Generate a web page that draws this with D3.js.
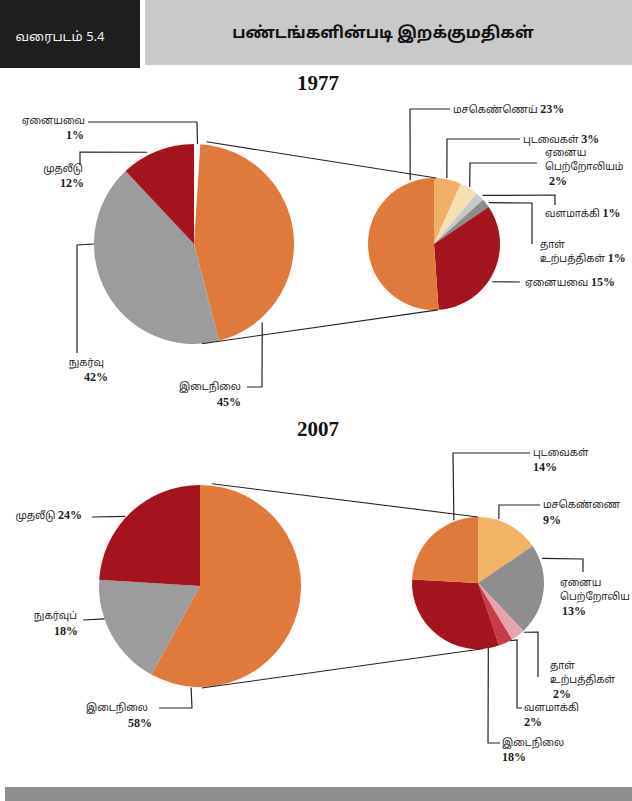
<!DOCTYPE html>
<html>
<head>
<meta charset="utf-8">
<script src="https://cdn.jsdelivr.net/npm/d3@7"></script>
<style>
  html, body { margin: 0; padding: 0; background: #ffffff; }
  svg { display: block; }
  .ta { font-family: "Noto Sans Tamil", "Lohit Tamil", "Noto Sans", sans-serif; font-size: 10px; fill: #1a1a1a; }
  .num { font-family: "Liberation Serif", "Times New Roman", serif; font-weight: bold; font-size: 12px; fill: #1a1a1a; }
  .yr { font-family: "Liberation Serif", "Times New Roman", serif; font-weight: bold; font-size: 21px; fill: #111; }
</style>
</head>
<body>
<svg id="chart" width="632" height="801"></svg>
<script>
// ---------------- data ----------------
const figureLabel = "வரைபடம் 5.4";
const figureTitle = "பண்டங்களின்படி  இறக்குமதிகள்";
const years = ["1977", "2007"];

const main1977Names  = ["ஏனையவை", "இடைநிலை", "நுகர்வு", "முதலீடு"];
const main1977Values = [1, 45, 42, 12];

const detail1977Names  = ["புடவைகள்", "ஏனைய பெற்றோலியம்", "வளமாக்கி", "தாள் உற்பத்திகள்", "ஏனையவை", "மசகெண்ணெய்"];
const detail1977Values = [3, 2, 1, 1, 15, 23];

const main2007Names  = ["இடைநிலை", "நுகர்வுப்", "முதலீடு"];
const main2007Values = [58, 18, 24];

const detail2007Names  = ["மசகெண்ணை", "ஏனைய பெற்றோலிய", "தாள் உற்பத்திகள்", "வளமாக்கி", "இடைநிலை", "புடவைகள்"];
const detail2007Values = [9, 13, 2, 2, 18, 14];

// ---------------- styles ----------------
const colMain1977   = ["#ffffff", "#e07a3c", "#9c9c9c", "#a3141f"];
const colDetail1977 = ["#f1b06a", "#f6e0b2", "#c9c9c9", "#8c8c8c", "#a3141f", "#e07a3c"];
const colMain2007   = ["#e07a3c", "#9c9c9c", "#a3141f"];
const colDetail2007 = ["#f1b465", "#8e8e8e", "#e9a3ab", "#c83c4a", "#a3141f", "#e07a3c"];

// ---------------- layout ----------------
const svg = d3.select("#chart");

// header
svg.append("rect").attr("x", 0).attr("y", 0).attr("width", 140).attr("height", 68).attr("fill", "#1e1e1e");
svg.append("rect").attr("x", 145).attr("y", 0).attr("width", 487).attr("height", 65).attr("fill", "#c9c9c9");
svg.append("text").attr("x", 60).attr("y", 41).attr("text-anchor", "middle")
  .attr("class", "ta").style("fill", "#f2f2f2").style("font-size", "13px").text(figureLabel);
svg.append("text").attr("x", 383).attr("y", 38).attr("text-anchor", "middle")
  .attr("class", "ta").style("fill", "#111").style("font-size", "16px").style("font-weight", "bold").text(figureTitle);

// bottom band
svg.append("rect").attr("x", 5).attr("y", 787).attr("width", 627).attr("height", 14).attr("fill", "#8e8e8e");

// year titles
svg.append("text").attr("class", "yr").attr("x", 318).attr("y", 90).attr("text-anchor", "middle").text(years[0]);
svg.append("text").attr("class", "yr").attr("x", 318).attr("y", 436).attr("text-anchor", "middle").text(years[1]);

const pie = d3.pie().sort(null).value(d => d.v);

function rimPoint(c, deg, k) {
  const a = deg * Math.PI / 180;
  return [c.cx + c.r * k * Math.sin(a), c.cy - c.r * k * Math.cos(a)];
}

function drawPie(names, values, colors, c) {
  const data = names.map((n, i) => ({ n, v: values[i] }));
  const arc = d3.arc().innerRadius(0).outerRadius(c.r);
  const g = svg.append("g").attr("transform", `translate(${c.cx},${c.cy})`);
  g.selectAll("path").data(pie(data)).join("path")
    .attr("d", arc)
    .attr("fill", (d, i) => colors[i])
    .attr("stroke", (d, i) => colors[i] === "#ffffff" ? "#ffffff" : "none")
    .attr("stroke-width", 0.5);
}

function leader(c, ann) {
  const p0 = rimPoint(c, ann.angle, ann.k || 1);
  const pts = [p0].concat(ann.pts);
  svg.append("path").attr("d", d3.line()(pts))
    .attr("fill", "none").attr("stroke", "#222").attr("stroke-width", 1.2);
  ann.lines.forEach(l => {
    const t = svg.append("text").attr("x", l[0]).attr("y", l[1] + 4)
      .attr("text-anchor", ann.anchor || "start");
    l[2].forEach(seg => {
      t.append("tspan").attr("class", seg.num ? "num" : "ta").text(seg.t);
    });
  });
}

function connector(c1, a1, k1, c2, a2, k2) {
  svg.append("path").attr("d", d3.line()([rimPoint(c1, a1, k1), rimPoint(c2, a2, k2)]))
    .attr("fill", "none").attr("stroke", "#222").attr("stroke-width", 1.1);
}

const T = t => ({ t });
const N = t => ({ t, num: true });
const pct = v => v + "%";

// ---- 1977 ----
const cL77 = { cx: 194, cy: 244, r: 100 };
const cR77 = { cx: 434, cy: 244, r: 66 };
drawPie(main1977Names, main1977Values, colMain1977, cL77);
drawPie(detail1977Names, detail1977Values, colDetail1977, cR77);
connector(cL77, 7, 1.03, cR77, 2, 1.0);
connector(cL77, 175.5, 1.0, cR77, 176.5, 1.0);

leader(cL77, { angle: 2, k: 1.0, pts: [[197, 122], [88, 122]], anchor: "end",
  lines: [[85, 120, [T(main1977Names[0])]], [84, 135, [N(pct(main1977Values[0]))]]] });
leader(cL77, { angle: 333, k: 1.03, pts: [[80, 152], [80, 165]], anchor: "end",
  lines: [[83, 168, [T(main1977Names[3])]], [84, 183, [N(pct(main1977Values[3]))]]] });
leader(cL77, { angle: 270, k: 1.0, pts: [[77, 245], [77, 353]], anchor: "end",
  lines: [[104, 362, [T(main1977Names[2])]], [108, 377, [N(pct(main1977Values[2]))]]] });
leader(cL77, { angle: 139, k: 1.04, pts: [[262, 387], [247, 387]], anchor: "end",
  lines: [[241, 386, [T(main1977Names[1])]], [241, 402, [N(pct(main1977Values[1]))]]] });

leader(cR77, { angle: 339.5, k: 1.03, pts: [[410, 109], [450, 109]],
  lines: [[453, 109, [T(detail1977Names[5] + "  "), N(pct(detail1977Values[5]))]]] });
leader(cR77, { angle: 11, k: 1.02, pts: [[447, 139], [520, 139]],
  lines: [[523, 139, [T(detail1977Names[0] + "  "), N(pct(detail1977Values[0]))]]] });
leader(cR77, { angle: 32, k: 1.02, pts: [[470, 163], [537, 163]],
  lines: [[545, 152, [T("ஏனைய")]], [545, 166, [T("பெற்றோலியம்")]], [549, 181, [N(pct(detail1977Values[1]))]]] });
leader(cR77, { angle: 45, k: 1.04, pts: [[555, 195], [555, 205]],
  lines: [[545, 213, [T(detail1977Names[2] + "  "), N(pct(detail1977Values[2]))]]] });
leader(cR77, { angle: 53, k: 1.04, pts: [[532, 203], [532, 244]],
  lines: [[540, 244, [T("தாள்")]], [540, 258, [T("உற்பத்திகள்  "), N(pct(detail1977Values[3]))]]] });
leader(cR77, { angle: 123, k: 1.05, pts: [[520, 282]],
  lines: [[525, 282, [T(detail1977Names[4] + "  "), N(pct(detail1977Values[4]))]]] });

// ---- 2007 ----
const cL07 = { cx: 200, cy: 586, r: 101 };
const cR07 = { cx: 478, cy: 583, r: 66 };
drawPie(main2007Names, main2007Values, colMain2007, cL07);
drawPie(detail2007Names, detail2007Values, colDetail2007, cR07);
connector(cL07, 6.7, 1.02, cR07, 0, 1.0);
connector(cL07, 179, 1.01, cR07, 175.7, 1.0);

leader(cL07, { angle: 313, k: 1.01, pts: [[92, 517]], anchor: "end",
  lines: [[82, 515, [T(main2007Names[2] + "  "), N(pct(main2007Values[2]))]]] });
leader(cL07, { angle: 251, k: 1.0, pts: [[83, 620]], anchor: "end",
  lines: [[77, 615, [T(main2007Names[1])]], [78, 631, [N(pct(main2007Values[1]))]]] });
leader(cL07, { angle: 185, k: 1.01, pts: [[192, 708], [159, 708]], anchor: "end",
  lines: [[148, 707, [T(main2007Names[0])]], [152, 723, [N(pct(main2007Values[0]))]]] });

leader(cR07, { angle: 339, k: 1.02, pts: [[453, 453], [530, 453]],
  lines: [[533, 452, [T(detail2007Names[5])]], [533, 467, [N(pct(detail2007Values[5]))]]] });
leader(cR07, { angle: 18, k: 1.02, pts: [[499, 505], [540, 505]],
  lines: [[543, 504, [T(detail2007Names[0])]], [543, 520, [N(pct(detail2007Values[0]))]]] });
leader(cR07, { angle: 69, k: 1.04, pts: [[583, 559], [583, 572]],
  lines: [[560, 582, [T("ஏனைய")]], [560, 596, [T("பெற்றோலிய")]], [562, 611, [N(pct(detail2007Values[1]))]]] });
leader(cR07, { angle: 137, k: 1.02, pts: [[538, 632], [538, 677]],
  lines: [[550, 665, [T("தாள்")]], [550, 679, [T("உற்பத்திகள்")]], [553, 694, [N(pct(detail2007Values[2]))]]] });
leader(cR07, { angle: 151, k: 1.0, pts: [[517, 640], [517, 708], [522, 708]],
  lines: [[524, 707, [T(detail2007Names[3])]], [524, 722, [N(pct(detail2007Values[3]))]]] });
leader(cR07, { angle: 171, k: 1.0, pts: [[488, 743], [500, 743]],
  lines: [[502, 742, [T(detail2007Names[4])]], [502, 757, [N(pct(detail2007Values[4]))]]] });
</script>
</body>
</html>
